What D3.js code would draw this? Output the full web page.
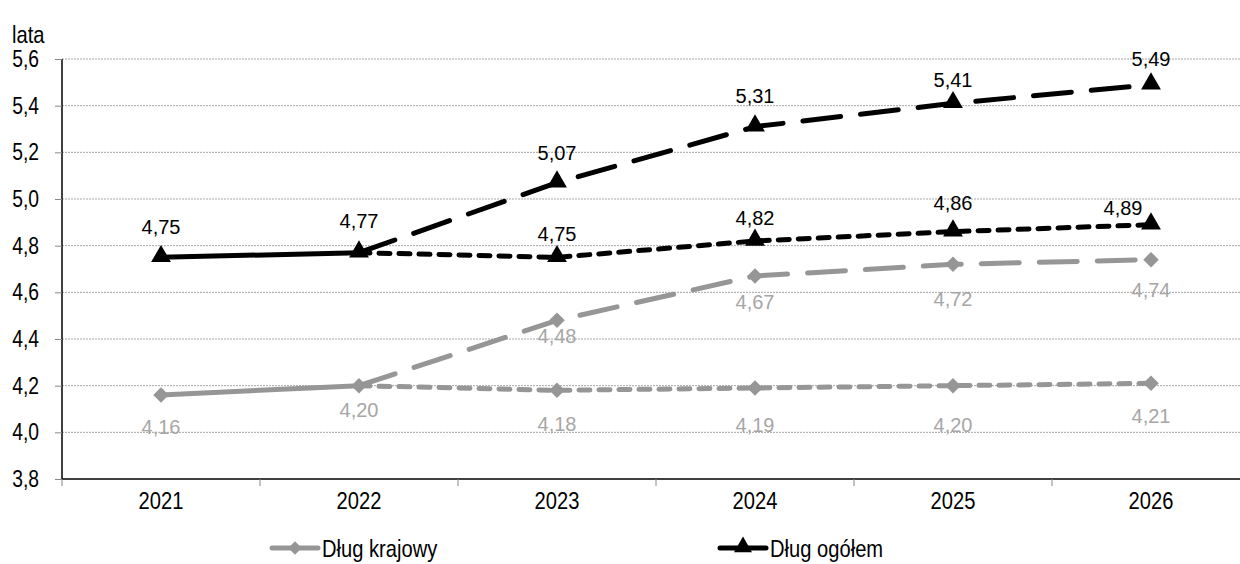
<!DOCTYPE html>
<html><head><meta charset="utf-8">
<script src="https://cdn.jsdelivr.net/npm/d3@7"></script>
<style>
html,body{margin:0;padding:0;background:#fff;}
svg{display:block;}
.ax{font-family:"Liberation Sans",Arial,sans-serif;}
.lbl{font-family:"Liberation Sans",Arial,sans-serif;}
</style></head>
<body>
<svg id="c" width="1240" height="564"></svg>
<script>
// ---- data ----
const years = ["2021","2022","2023","2024","2025","2026"];
const yTicks = [3.8,4.0,4.2,4.4,4.6,4.8,5.0,5.2,5.4,5.6];
// actual (solid) segment 2021-2022
const ogolemBase = [4.75, 4.77];
const krajowyBase = [4.16, 4.20];
// scenario 2022-2026: long dash (upper) and short dash (lower)
const ogolemHigh = [4.77, 5.07, 5.31, 5.41, 5.49];
const ogolemLow  = [4.77, 4.75, 4.82, 4.86, 4.89];
const krajowyHigh = [4.20, 4.48, 4.67, 4.72, 4.74];
const krajowyLow  = [4.20, 4.18, 4.19, 4.20, 4.21];
const legendNames = ["Dług krajowy", "Dług ogółem"];
const yTitle = "lata";

// ---- layout ----
const svg = d3.select("#c");
const x = d3.scaleBand().domain(years).range([62, 1250]);
const y = d3.scaleLinear().domain([3.8, 5.6]).range([479, 59]);
const cx = d => x(d) + x.bandwidth()/2;
const fmt = v => v.toFixed(2).replace(".", ",");
const BLACK = "#000", GRAY = "#969696", GRAYTXT = "#a6a6a6";
const SX = 0.84; // condensed look of axis font

// gridlines
svg.append("g").selectAll("line").data(yTicks.filter(t => t > 3.8)).join("line")
  .attr("x1", 62).attr("x2", 1240).attr("y1", d => y(d)).attr("y2", d => y(d))
  .attr("stroke", "#a6a6a6").attr("stroke-width", 1).attr("stroke-dasharray", "2,1");

// y axis
const yAx = svg.append("g").attr("transform", "translate(62,0)")
  .call(d3.axisLeft(y).tickValues(yTicks).tickSize(7).tickPadding(0).tickFormat(d => d.toFixed(1).replace(".", ",")));
yAx.select(".domain").attr("stroke", "#000").attr("stroke-width", 1.5).attr("d", "M0,59V479");
yAx.selectAll(".tick line").attr("stroke", "#888");
yAx.selectAll("text").attr("class", "ax").attr("font-size", 23).attr("fill", "#000")
  .attr("x", -23 / SX).attr("transform", `scale(${SX},1)`);

// x axis
const xAx = svg.append("g").attr("transform", "translate(0,479)")
  .call(d3.axisBottom(x).tickSize(0).tickPadding(13));
xAx.select(".domain").attr("stroke", "#000").attr("stroke-width", 1.5).attr("d", "M62,0H1240");
xAx.selectAll("text").attr("class", "ax").attr("font-size", 24).attr("fill", "#000")
  .attr("transform", `scale(${SX},1)`);
svg.append("g").selectAll("line").data(years).join("line")
  .attr("x1", d => x(d)).attr("x2", d => x(d)).attr("y1", 479).attr("y2", 486)
  .attr("stroke", "#888");

svg.append("text").attr("class", "ax").attr("x", 12 / SX).attr("y", 43)
  .attr("transform", `scale(${SX},1)`)
  .attr("font-size", 24).text(yTitle);

// lines
const line = d3.line().x(d => cx(d.k)).y(d => y(d.v));
const pts = (arr, ks) => arr.map((v, i) => ({k: ks[i], v}));
const baseYears = years.slice(0, 2), scenYears = years.slice(1);
const series = [
  {d: pts(krajowyBase, baseYears), c: GRAY, dash: null},
  {d: pts(krajowyHigh, scenYears), c: GRAY, dash: "38,20"},
  {d: pts(krajowyLow, scenYears), c: GRAY, dash: "11,9"},
  {d: pts(ogolemBase, baseYears), c: BLACK, dash: null},
  {d: pts(ogolemHigh, scenYears), c: BLACK, dash: "38,20"},
  {d: pts(ogolemLow, scenYears), c: BLACK, dash: "11,9"},
];
series.forEach(s => {
  svg.append("path").attr("d", line(s.d)).attr("fill", "none")
    .attr("stroke", s.c).attr("stroke-width", 5).attr("stroke-linecap", "round")
    .attr("stroke-dasharray", s.dash);
});

// markers
const tri = d3.symbol().type(d3.symbolTriangle).size(170);
const kPts = pts(krajowyBase, baseYears).concat(pts(krajowyHigh, scenYears).slice(1), pts(krajowyLow, scenYears).slice(1));
const oPts = pts(ogolemBase, baseYears).concat(pts(ogolemHigh, scenYears).slice(1), pts(ogolemLow, scenYears).slice(1));
svg.append("g").selectAll("path").data(kPts).join("path")
  .attr("d", d3.symbol().type(d3.symbolSquare).size(120)())
  .attr("transform", d => `translate(${cx(d.k)},${y(d.v)}) rotate(45)`).attr("fill", GRAY);
svg.append("g").selectAll("path").data(oPts).join("path")
  .attr("d", tri())
  .attr("transform", d => `translate(${cx(d.k)},${y(d.v) - 1})`).attr("fill", BLACK);

// data labels (vertical nudges for readability, same order as the points above)
const kNudge = [32, 24, 16, 26, 35, 30, 34, 37, 39, 33];
const oNudge = [-30, -32, -30, -31, -23, -26, -23, -23, -29, -17];
const oDx = [0, 0, 0, 0, 0, 0, 0, 0, 0, -28];
svg.append("g").selectAll("text").data(kPts).join("text")
  .attr("class", "lbl").attr("font-size", 20).attr("fill", GRAYTXT)
  .attr("text-anchor", "middle").attr("dominant-baseline", "central")
  .attr("x", d => cx(d.k)).attr("y", (d, i) => y(d.v) + kNudge[i]).text(d => fmt(d.v));
svg.append("g").selectAll("text").data(oPts).join("text")
  .attr("class", "lbl").attr("font-size", 20).attr("fill", BLACK)
  .attr("text-anchor", "middle").attr("dominant-baseline", "central")
  .attr("x", (d, i) => cx(d.k) + oDx[i]).attr("y", (d, i) => y(d.v) + oNudge[i]).text(d => fmt(d.v));

// legend
const leg = [
  {name: legendNames[0], c: GRAY, x: 270, sym: "d"},
  {name: legendNames[1], c: BLACK, x: 718, sym: "t"},
];
leg.forEach(l => {
  const g = svg.append("g").attr("transform", `translate(${l.x},548)`);
  g.append("line").attr("x1", 2).attr("x2", 48).attr("stroke", l.c).attr("stroke-width", 5).attr("stroke-linecap", "round");
  if (l.sym === "d") g.append("path").attr("d", d3.symbol().type(d3.symbolSquare).size(90)()).attr("transform", "translate(25,0) rotate(45)").attr("fill", l.c);
  else g.append("path").attr("d", d3.symbol().type(d3.symbolTriangle).size(140)()).attr("transform", "translate(25,-1)").attr("fill", l.c);
  g.append("text").attr("class", "ax").attr("x", 52 / SX).attr("y", 9).attr("transform", `scale(${SX},1)`)
    .attr("font-size", 24).attr("fill", "#000").text(l.name);
});
</script>
</body></html>
